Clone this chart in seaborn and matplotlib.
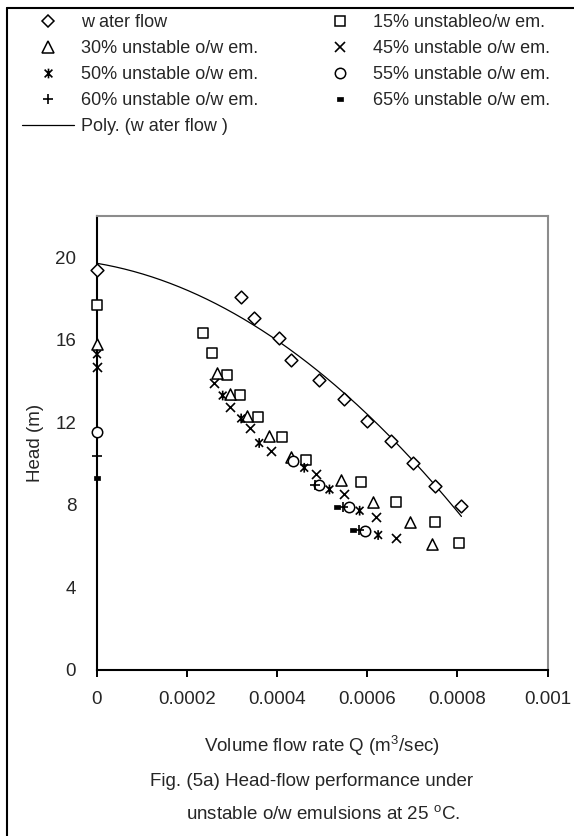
import numpy as np
import matplotlib
matplotlib.use("Agg")
import matplotlib.pyplot as plt
from matplotlib.lines import Line2D
from matplotlib.path import Path
import seaborn as sns

# ---- data: volume flow rate Q (m^3/s) and head (m) ----
water_q = [0.0, 0.00032, 0.000349, 0.000403, 0.000431, 0.000493, 0.000549,
           0.000599, 0.000653, 0.000702, 0.000751, 0.000809]
water_h = [19.4, 18.07, 17.07, 16.1, 15.02, 14.05, 13.13, 12.08, 11.1, 10.01, 8.93, 7.96]

em15_q = [0.0, 0.000235, 0.000255, 0.000288, 0.000318, 0.000358, 0.00041,
          0.000464, 0.000587, 0.000664, 0.000751, 0.000804]
em15_h = [17.7, 16.34, 15.37, 14.29, 13.32, 12.24, 11.27, 10.17, 9.12, 8.15, 7.16, 6.17]

em30_q = [0.0, 0.000266, 0.000296, 0.000334, 0.000382, 0.000431, 0.000542,
          0.000612, 0.000694, 0.000744]
em30_h = [15.8, 14.4, 13.37, 12.33, 11.34, 10.3, 9.2, 8.15, 7.16, 6.09]

em45_q = [0.0, 0.00026, 0.000296, 0.00034, 0.000386, 0.000487, 0.000549,
          0.00062, 0.000664]
em45_h = [14.7, 13.92, 12.76, 11.74, 10.63, 9.5, 8.53, 7.43, 6.38]

em50_q = [0.0, 0.000279, 0.00032, 0.00036, 0.00046, 0.000516, 0.000583, 0.000624]
em50_h = [15.3, 13.3, 12.19, 11.0, 9.8, 8.75, 7.72, 6.54]

em55_q = [0.0, 0.000435, 0.000492, 0.000559, 0.000594]
em55_h = [11.55, 10.13, 8.96, 7.88, 6.73]

em60_q = [0.0, 0.000484, 0.000546, 0.000581]
em60_h = [10.37, 8.96, 7.88, 6.78]

em65_q = [0.0, 0.000533, 0.000568]
em65_h = [9.32, 7.88, 6.8]

series_labels = ["w ater flow", "15% unstableo/w em.", "30% unstable o/w em.",
                 "45% unstable o/w em.", "50% unstable o/w em.", "55% unstable o/w em.",
                 "60% unstable o/w em.", "65% unstable o/w em."]
trend_label = "Poly. (w ater flow )"

x_ticks = [0, 0.0002, 0.0004, 0.0006, 0.0008, 0.001]
x_tick_labels = ["0", "0.0002", "0.0004", "0.0006", "0.0008", "0.001"]
y_ticks = [0, 4, 8, 12, 16, 20]
y_tick_labels = ["0", "4", "8", "12", "16", "20"]

# ---- style ----
sns.set_theme(style="white")
plt.rcParams["font.family"] = ["Liberation Sans", "DejaVu Sans"]
plt.rcParams["mathtext.fontset"] = "custom"
plt.rcParams["mathtext.rm"] = "Liberation Sans"

FS = 13.5
LEG_FS = 13

# custom markers: Excel-style asterisk (x with vertical bar) and short bar
star_path = Path([(-1, -1), (1, 1), (-1, 1), (1, -1), (0, -1.25), (0, 1.25)],
                 [Path.MOVETO, Path.LINETO, Path.MOVETO, Path.LINETO, Path.MOVETO, Path.LINETO])
bar_path = Path([(-1, -0.45), (1, -0.45), (1, 0.45), (-1, 0.45), (-1, -0.45)],
                [Path.MOVETO, Path.LINETO, Path.LINETO, Path.LINETO, Path.CLOSEPOLY])

# marker spec: (marker, size in points, face kind)
styles = [
    ("D", 6.5, "open"),
    ("s", 7.0, "open"),
    ("^", 8.0, "open"),
    ("x", 6.5, "line"),
    (star_path, 7.0, "path"),
    ("o", 7.5, "open"),
    ("+", 7.5, "line"),
    (bar_path, 5.0, "solid"),
]

data = [(water_q, water_h), (em15_q, em15_h), (em30_q, em30_h), (em45_q, em45_h),
        (em50_q, em50_h), (em55_q, em55_h), (em60_q, em60_h), (em65_q, em65_h)]

fig = plt.figure(figsize=(5.74, 8.36), dpi=100)
ax = fig.add_axes([97 / 574, 1 - 670 / 836, 450.5 / 574, 454 / 836])

# second-order trend line fitted to the water data
coef = np.polyfit(water_q, water_h, 2)
q_fit = np.linspace(0, max(water_q), 200)
h_fit = np.polyval(coef, q_fit)
sns.lineplot(x=q_fit, y=h_fit, ax=ax, color="black", linewidth=0.9, legend=False,
             zorder=2, sort=False)

handles = []
for (q, h), (mk, size, face) in zip(data, styles):
    if face == "open":
        sns.scatterplot(x=q, y=h, ax=ax, marker=mk, s=size ** 2, facecolor="white",
                        edgecolor="black", linewidth=1.1, legend=False, zorder=3,
                        clip_on=False)
        handles.append(Line2D([], [], ls="none", marker=mk, ms=size, mfc="white",
                              mec="black", mew=1.1))
    elif face == "solid":
        sns.scatterplot(x=q, y=h, ax=ax, marker=mk, s=size ** 2, color="black",
                        edgecolor="black", linewidth=0.5, legend=False, zorder=3,
                        clip_on=False)
        handles.append(Line2D([], [], ls="none", marker=mk, ms=size, mfc="black",
                              mec="black", mew=0.5))
    elif face == "path":
        sns.scatterplot(x=q, y=h, ax=ax, marker=mk, s=size ** 2, facecolor="none",
                        edgecolor="black", linewidth=1.2, legend=False, zorder=3,
                        clip_on=False)
        handles.append(Line2D([], [], ls="none", marker=mk, ms=size, mfc="none",
                              mec="black", mew=1.2))
    else:
        sns.scatterplot(x=q, y=h, ax=ax, marker=mk, s=size ** 2, color="black",
                        linewidth=1.2, legend=False, zorder=3, clip_on=False)
        handles.append(Line2D([], [], ls="none", marker=mk, ms=size, color="black",
                              mec="black", mew=1.2))

trend_handle = Line2D([], [], color="black", lw=0.9)

# ---- axes ----
ax.set_xlim(0, 0.001)
ax.set_ylim(0, 22)
ax.set_xticks(x_ticks)
ax.set_xticklabels(x_tick_labels, fontsize=FS)
ax.set_yticks(y_ticks)
ax.set_yticklabels(y_tick_labels, fontsize=FS)
ax.tick_params(axis="x", direction="out", length=5, width=1.4, color="black",
               pad=10, bottom=True)
ax.tick_params(axis="y", length=0, pad=15, left=True)
ax.grid(False)
for side in ("left", "bottom"):
    ax.spines[side].set_color("black")
    ax.spines[side].set_linewidth(1.5)
for side in ("top", "right"):
    ax.spines[side].set_color("#8c8c8c")
    ax.spines[side].set_linewidth(1.5)

ax.set_ylabel("Head (m)", fontsize=FS, labelpad=8)
ax.set_xlabel("Volume flow rate Q (m$^3$/sec)", fontsize=FS, labelpad=18)

# caption under the chart
fig.text(312 / 574, 1 - 781 / 836, "Fig. (5a) Head-flow performance under",
         ha="center", va="center", fontsize=FS)
fig.text(323 / 574, 1 - 815 / 836, "unstable o/w emulsions at 25 $^{\\rm o}$C.",
         ha="center", va="center", fontsize=FS)

# legend: two columns, row-wise reading order
order_col1 = [0, 2, 4, 6]
order_col2 = [1, 3, 5, 7]
leg_handles = [handles[i] for i in order_col1] + [trend_handle] + [handles[i] for i in order_col2]
leg_labels = [series_labels[i] for i in order_col1] + [trend_label] + [series_labels[i] for i in order_col2]
fig.legend(leg_handles, leg_labels, ncol=2, loc="upper left",
           bbox_to_anchor=(22 / 574, 1 - 14 / 836), frameon=False, fontsize=LEG_FS,
           handlelength=2.9, handletextpad=0.35, columnspacing=3.1,
           labelspacing=0.5, borderpad=0, borderaxespad=0)

# outer frame of the figure
fig.add_artist(Line2D([7 / 574, 7 / 574], [0, 1 - 8 / 836], transform=fig.transFigure,
                      color="black", lw=1.5))
fig.add_artist(Line2D([7 / 574, 1], [1 - 8 / 836, 1 - 8 / 836], transform=fig.transFigure,
                      color="black", lw=1.5))

fig.savefig("out.png", dpi=100)
